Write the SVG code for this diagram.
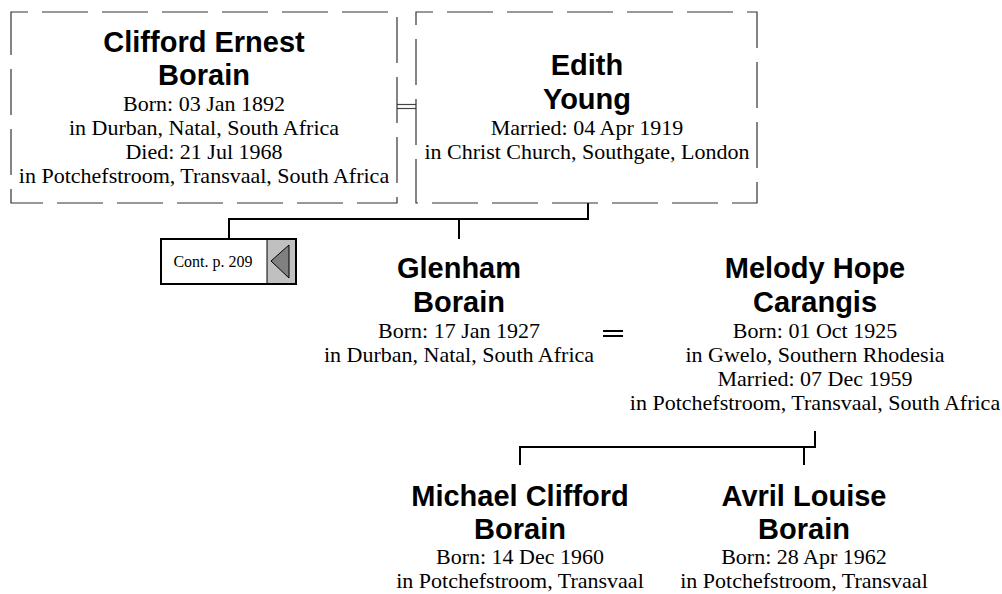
<svg xmlns="http://www.w3.org/2000/svg" width="1002" height="594" viewBox="0 0 1002 594">
<style>
.box{fill:none;stroke:#333;stroke-width:1.2;stroke-dasharray:46 14}
.name{font-family:"Liberation Sans",Arial,sans-serif;font-weight:bold;font-size:29px;text-anchor:middle;fill:#000}
.info{font-family:"Liberation Serif","Times New Roman",serif;font-size:22px;text-anchor:middle;fill:#000}
.ln{fill:none;stroke:#000;stroke-width:2}
.thin{fill:none;stroke:#444;stroke-width:1.2}
</style>
<rect width="1002" height="594" fill="#fff"/>
<g id="connectors">
<line class="thin" x1="397" y1="104.5" x2="416" y2="104.5"/>
<line class="thin" x1="397" y1="108.5" x2="416" y2="108.5"/>
<polyline class="ln" points="588,203 588,219 229,219 229,239"/>
<line class="ln" x1="459" y1="219" x2="459" y2="239"/>
<line class="ln" x1="603" y1="331" x2="623" y2="331"/>
<line class="ln" x1="603" y1="336" x2="623" y2="336"/>
<polyline class="ln" points="815,431 815,447 520,447 520,465"/>
<line class="ln" x1="804" y1="447" x2="804" y2="465"/>
</g>
<g id="clifford">
<rect class="box" x="11" y="12" width="386" height="191" stroke-dashoffset="29"/>
<text class="name" x="204" y="52">Clifford Ernest</text>
<text class="name" x="204" y="85">Borain</text>
<text class="info" x="204" y="111">Born: 03 Jan 1892</text>
<text class="info" x="204" y="135">in Durban, Natal, South Africa</text>
<text class="info" x="204" y="159">Died: 21 Jul 1968</text>
<text class="info" x="204" y="183">in Potchefstroom, Transvaal, South Africa</text>
</g>
<g id="edith">
<rect class="box" x="416" y="12" width="341" height="191" stroke-dashoffset="29"/>
<text class="name" x="587" y="75">Edith</text>
<text class="name" x="587" y="109">Young</text>
<text class="info" x="587" y="135">Married: 04 Apr 1919</text>
<text class="info" x="587" y="159">in Christ Church, Southgate, London</text>
</g>
<g id="cont">
<rect x="161" y="239" width="135" height="45" fill="#fff" stroke="#000" stroke-width="2"/>
<rect x="267" y="240" width="28" height="43" fill="#c0c0c0"/>
<line x1="267" y1="240" x2="267" y2="283" stroke="#000" stroke-width="1"/>
<polygon points="271,261 289,245 289,278" fill="#808080" stroke="#000" stroke-width="1"/>
<text x="213" y="267" font-family="Liberation Serif,serif" font-size="16" text-anchor="middle">Cont. p. 209</text>
</g>
<g id="glenham">
<text class="name" x="459" y="278">Glenham</text>
<text class="name" x="459" y="312">Borain</text>
<text class="info" x="459" y="338">Born: 17 Jan 1927</text>
<text class="info" x="459" y="362">in Durban, Natal, South Africa</text>
</g>
<g id="melody">
<text class="name" x="815" y="278">Melody Hope</text>
<text class="name" x="815" y="312">Carangis</text>
<text class="info" x="815" y="338">Born: 01 Oct 1925</text>
<text class="info" x="815" y="362">in Gwelo, Southern Rhodesia</text>
<text class="info" x="815" y="386">Married: 07 Dec 1959</text>
<text class="info" x="815" y="410">in Potchefstroom, Transvaal, South Africa</text>
</g>
<g id="michael">
<text class="name" x="520" y="506">Michael Clifford</text>
<text class="name" x="520" y="539">Borain</text>
<text class="info" x="520" y="564">Born: 14 Dec 1960</text>
<text class="info" x="520" y="588">in Potchefstroom, Transvaal</text>
</g>
<g id="avril">
<text class="name" x="804" y="506">Avril Louise</text>
<text class="name" x="804" y="539">Borain</text>
<text class="info" x="804" y="564">Born: 28 Apr 1962</text>
<text class="info" x="804" y="588">in Potchefstroom, Transvaal</text>
</g>
</svg>
